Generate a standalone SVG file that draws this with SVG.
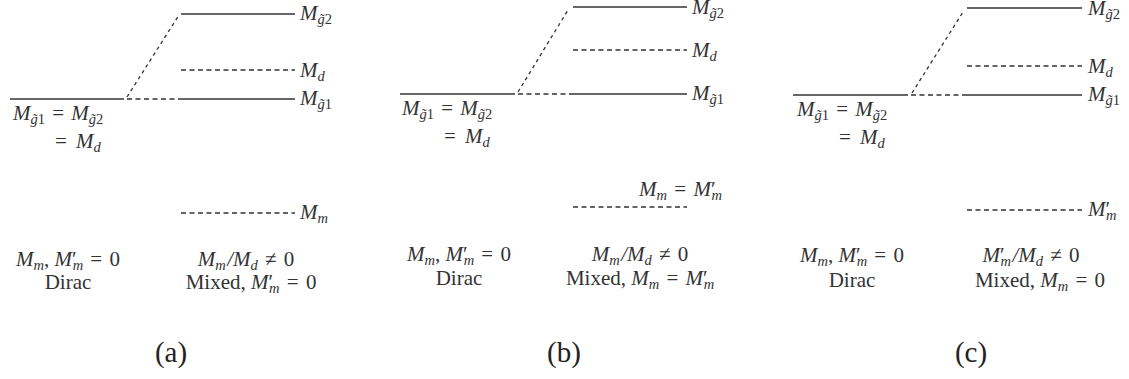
<svg xmlns="http://www.w3.org/2000/svg" width="1129" height="379" viewBox="0 0 1129 379">
<style>
.bg{fill:#fff}
.lv{stroke:#333;stroke-width:1.4;fill:none}
.dl{stroke:#333;stroke-width:1.4;fill:none;stroke-dasharray:5 3.5}
.dg{stroke:#333;stroke-width:1.3;fill:none;stroke-dasharray:3.5 3.5}
.m{font-family:"Liberation Serif",serif;font-size:21px;fill:#333}
.i{font-style:italic}
.s{font-size:14.5px}
.cap{font-family:"Liberation Serif",serif;font-size:29px;fill:#222;text-anchor:middle}
.mid{text-anchor:middle}
.end{text-anchor:end}
</style>
<rect class="bg" x="0" y="0" width="1129" height="379"/>

<!-- Panel (a) -->
<g id="panel-a">
  <g id="a-degenerate">
    <line class="lv" x1="10" y1="99" x2="124" y2="99"/>
    <text class="m" x="13" y="119.5"><tspan class="i">M</tspan><tspan class="s i" dy="4">g̃</tspan><tspan class="s">1</tspan><tspan dx="2" dy="-4"> = </tspan><tspan class="i" dx="2">M</tspan><tspan class="s i" dy="4">g̃</tspan><tspan class="s">2</tspan></text>
    <text class="m" x="55" y="148">=<tspan dx="2"> </tspan><tspan class="i" dx="2">M</tspan><tspan class="s i" dy="4">d</tspan></text>
  </g>
  <g id="a-g2">
    <line class="lv" x1="181" y1="14" x2="295" y2="14"/>
    <text class="m" x="300" y="19.5"><tspan class="i">M</tspan><tspan class="s i" dy="4">g̃</tspan><tspan class="s">2</tspan></text>
  </g>
  <g id="a-d">
    <line class="dl" x1="181" y1="70" x2="295" y2="70"/>
    <text class="m" x="300" y="77"><tspan class="i">M</tspan><tspan class="s i" dy="4">d</tspan></text>
  </g>
  <g id="a-g1">
    <line class="lv" x1="181" y1="99" x2="295" y2="99"/>
    <text class="m" x="300" y="105"><tspan class="i">M</tspan><tspan class="s i" dy="4">g̃</tspan><tspan class="s">1</tspan></text>
  </g>
  <g id="a-m">
    <line class="dl" x1="181" y1="213" x2="295" y2="213"/>
    <text class="m" x="300" y="219"><tspan class="i">M</tspan><tspan class="s i" dy="4">m</tspan></text>
  </g>
  <g id="a-text">
    <text class="m mid" x="68" y="266"><tspan class="i">M</tspan><tspan class="s i" dy="4">m</tspan><tspan dy="-4">, </tspan><tspan class="i">M</tspan><tspan>′</tspan><tspan class="s i" dx="-4" dy="4">m</tspan><tspan dx="2" dy="-4"> = </tspan><tspan dx="2">0</tspan></text>
    <text class="m mid" x="68" y="289">Dirac</text>
    <text class="m mid" x="246" y="266"><tspan class="i">M</tspan><tspan class="s i" dy="4">m</tspan><tspan class="i" dx="1.5" dy="-4">/M</tspan><tspan class="s i" dy="4">d</tspan><tspan dx="2" dy="-4"> ≠ </tspan><tspan dx="2">0</tspan></text>
    <text class="m mid" x="251" y="289">Mixed, <tspan class="i">M</tspan><tspan>′</tspan><tspan class="s i" dx="-4" dy="4">m</tspan><tspan dx="2" dy="-4"> = </tspan><tspan dx="2">0</tspan></text>
  </g>
  <text class="cap" x="171" y="362">(a)</text>
</g>

<!-- Panel (b) -->
<g id="panel-b">
  <g id="b-degenerate">
    <line class="lv" x1="400" y1="94" x2="515" y2="94"/>
    <text class="m" x="402" y="115"><tspan class="i">M</tspan><tspan class="s i" dy="4">g̃</tspan><tspan class="s">1</tspan><tspan dx="2" dy="-4"> = </tspan><tspan class="i" dx="2">M</tspan><tspan class="s i" dy="4">g̃</tspan><tspan class="s">2</tspan></text>
    <text class="m" x="444" y="143">=<tspan dx="2"> </tspan><tspan class="i" dx="2">M</tspan><tspan class="s i" dy="4">d</tspan></text>
  </g>
  <g id="b-g2">
    <line class="lv" x1="573" y1="7" x2="687" y2="7"/>
    <text class="m" x="692" y="14"><tspan class="i">M</tspan><tspan class="s i" dy="4">g̃</tspan><tspan class="s">2</tspan></text>
  </g>
  <g id="b-d">
    <line class="dl" x1="573" y1="50" x2="687" y2="50"/>
    <text class="m" x="692" y="57"><tspan class="i">M</tspan><tspan class="s i" dy="4">d</tspan></text>
  </g>
  <g id="b-g1">
    <line class="lv" x1="573" y1="94" x2="687" y2="94"/>
    <text class="m" x="692" y="100"><tspan class="i">M</tspan><tspan class="s i" dy="4">g̃</tspan><tspan class="s">1</tspan></text>
  </g>
  <g id="b-m">
    <line class="dl" x1="573" y1="207" x2="687" y2="207"/>
    <text class="m end" x="722" y="196"><tspan class="i">M</tspan><tspan class="s i" dy="4">m</tspan><tspan dx="2" dy="-4"> = </tspan><tspan class="i" dx="2">M</tspan><tspan>′</tspan><tspan class="s i" dx="-4" dy="4">m</tspan></text>
  </g>
  <g id="b-text">
    <text class="m mid" x="459" y="261"><tspan class="i">M</tspan><tspan class="s i" dy="4">m</tspan><tspan dy="-4">, </tspan><tspan class="i">M</tspan><tspan>′</tspan><tspan class="s i" dx="-4" dy="4">m</tspan><tspan dx="2" dy="-4"> = </tspan><tspan dx="2">0</tspan></text>
    <text class="m mid" x="459" y="285">Dirac</text>
    <text class="m mid" x="640" y="261"><tspan class="i">M</tspan><tspan class="s i" dy="4">m</tspan><tspan class="i" dx="1.5" dy="-4">/M</tspan><tspan class="s i" dy="4">d</tspan><tspan dx="2" dy="-4"> ≠ </tspan><tspan dx="2">0</tspan></text>
    <text class="m mid" x="640" y="285">Mixed, <tspan class="i">M</tspan><tspan class="s i" dy="4">m</tspan><tspan dx="2" dy="-4"> = </tspan><tspan class="i" dx="2">M</tspan><tspan>′</tspan><tspan class="s i" dx="-4" dy="4">m</tspan></text>
  </g>
  <text class="cap" x="564" y="362">(b)</text>
</g>

<!-- Panel (c) -->
<g id="panel-c">
  <g id="c-degenerate">
    <line class="lv" x1="793" y1="95" x2="908" y2="95"/>
    <text class="m" x="797" y="115.5"><tspan class="i">M</tspan><tspan class="s i" dy="4">g̃</tspan><tspan class="s">1</tspan><tspan dx="2" dy="-4"> = </tspan><tspan class="i" dx="2">M</tspan><tspan class="s i" dy="4">g̃</tspan><tspan class="s">2</tspan></text>
    <text class="m" x="839" y="143.5">=<tspan dx="2"> </tspan><tspan class="i" dx="2">M</tspan><tspan class="s i" dy="4">d</tspan></text>
  </g>
  <g id="c-g2">
    <line class="lv" x1="967" y1="8" x2="1082" y2="8"/>
    <text class="m" x="1088" y="15"><tspan class="i">M</tspan><tspan class="s i" dy="4">g̃</tspan><tspan class="s">2</tspan></text>
  </g>
  <g id="c-d">
    <line class="dl" x1="967" y1="66" x2="1082" y2="66"/>
    <text class="m" x="1088" y="73"><tspan class="i">M</tspan><tspan class="s i" dy="4">d</tspan></text>
  </g>
  <g id="c-g1">
    <line class="lv" x1="967" y1="95" x2="1082" y2="95"/>
    <text class="m" x="1088" y="101"><tspan class="i">M</tspan><tspan class="s i" dy="4">g̃</tspan><tspan class="s">1</tspan></text>
  </g>
  <g id="c-mp">
    <line class="dl" x1="967" y1="210" x2="1082" y2="210"/>
    <text class="m" x="1088" y="216"><tspan class="i">M</tspan><tspan>′</tspan><tspan class="s i" dx="-4" dy="4">m</tspan></text>
  </g>
  <g id="c-text">
    <text class="m mid" x="852" y="262"><tspan class="i">M</tspan><tspan class="s i" dy="4">m</tspan><tspan dy="-4">, </tspan><tspan class="i">M</tspan><tspan>′</tspan><tspan class="s i" dx="-4" dy="4">m</tspan><tspan dx="2" dy="-4"> = </tspan><tspan dx="2">0</tspan></text>
    <text class="m mid" x="852" y="287">Dirac</text>
    <text class="m mid" x="1031" y="262"><tspan class="i">M</tspan><tspan>′</tspan><tspan class="s i" dx="-4" dy="4">m</tspan><tspan class="i" dx="1.5" dy="-4">/M</tspan><tspan class="s i" dy="4">d</tspan><tspan dx="2" dy="-4"> ≠ </tspan><tspan dx="2">0</tspan></text>
    <text class="m mid" x="1040" y="287">Mixed, <tspan class="i">M</tspan><tspan class="s i" dy="4">m</tspan><tspan dx="2" dy="-4"> = </tspan><tspan dx="2">0</tspan></text>
  </g>
  <text class="cap" x="971" y="362">(c)</text>
</g>

<!-- Connectors -->
<g id="connectors">
  <line class="dl" x1="127" y1="99" x2="181" y2="99"/>
  <line class="dg" x1="127" y1="97" x2="179" y2="15"/>
  <line class="dl" x1="518" y1="94" x2="573" y2="94"/>
  <line class="dg" x1="518" y1="92" x2="568" y2="10"/>
  <line class="dl" x1="911" y1="95" x2="967" y2="95"/>
  <line class="dg" x1="912" y1="93" x2="963" y2="12"/>
</g>
</svg>
